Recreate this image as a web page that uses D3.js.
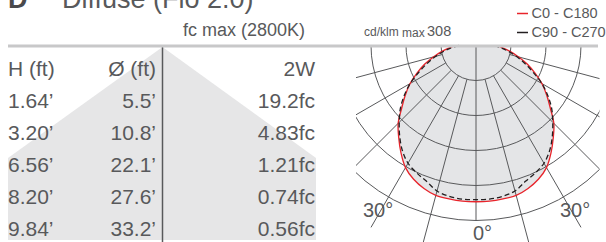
<!DOCTYPE html>
<html>
<head>
<meta charset="utf-8">
<script src="https://cdn.jsdelivr.net/npm/d3@7"></script>
<style>
  body { margin: 0; background: #fff; }
  svg { display: block; font-family: "Liberation Sans", Arial, sans-serif; }
</style>
</head>
<body>
<div id="chart"></div>
<script>
// table data
const headers = ["H (ft)", "Ø (ft)", "2W"];
const heights = ["1.64’", "3.20’", "6.56’", "8.20’", "9.84’"];
const diameters = ["5.5’", "10.8’", "22.1’", "27.6’", "33.2’"];
const footcandles = ["19.2fc", "4.83fc", "1.21fc", "0.74fc", "0.56fc"];

// polar data (cd/klm), angle from nadir
const angles = [0, 5, 10, 15, 20, 25, 30, 35, 40, 45, 50, 55, 60, 65, 70, 75, 80, 85, 90];
const c0c180 = [308, 308, 307, 306, 300, 291, 278, 258, 237, 217, 191, 170, 150, 128, 108, 87, 69, 53, 39];
const c90c270 = [304, 304, 302, 297, 285, 277, 268, 253, 234, 214, 195, 173, 150, 124, 102, 82, 64, 48, 34];
const ringValues = [69, 138, 207, 276, 345];
const gridAngles = [15, 30, 45, 60, 75];
const legendNames = ["C0 - C180", "C90 - C270"];

const width = 606, height = 242;
const ink = "#58595b";

const svg = d3.select("#chart").append("svg")
  .attr("width", width)
  .attr("height", height);

// title (cut off at top)
svg.append("text").attr("x", 8).attr("y", 8)
  .attr("font-size", 27).attr("font-weight", "bold").attr("fill", "#4a4a4c")
  .text("D");
svg.append("text").attr("x", 62).attr("y", 8)
  .attr("font-size", 27).attr("fill", ink)
  .text("Diffuse (Flo 2.0)");

// ---------- table ----------
const rowY = d3.scalePoint().domain(d3.range(heights.length + 1)).range([76, 236]);
const colX = { h: 8, d: 156, fc: 315 };
const lineX = 162.5, topY = 46;

// light cone
svg.append("path")
  .attr("d", `M${lineX},${topY + 1}L316,158L316,240L8,240L8,158Z`)
  .attr("fill", "#e6e6e7");

svg.append("text").attr("x", 305).attr("y", 36)
  .attr("font-size", 18).attr("text-anchor", "end").attr("fill", ink)
  .text("fc max (2800K)");

const cols = [
  { x: colX.h, anchor: "start", vals: [headers[0]].concat(heights) },
  { x: colX.d, anchor: "end", vals: [headers[1]].concat(diameters) },
  { x: colX.fc, anchor: "end", vals: [headers[2]].concat(footcandles) }
];
cols.forEach(c => {
  svg.append("g").selectAll("text").data(c.vals).join("text")
    .attr("x", c.x)
    .attr("y", (d, i) => rowY(i))
    .attr("text-anchor", c.anchor)
    .attr("font-size", 21)
    .attr("fill", ink)
    .text(d => d);
});

svg.append("line")
  .attr("x1", lineX).attr("x2", lineX).attr("y1", topY).attr("y2", height)
  .attr("stroke", ink).attr("stroke-width", 1.5);

// ---------- polar ----------
const cx = 476, cy = 45.5, R = 175;
const r = d3.scaleLinear().domain([0, 345]).range([0, R]);
const rad = a => a * Math.PI / 180;

svg.append("clipPath").attr("id", "clip")
  .append("rect").attr("x", 356).attr("y", cy).attr("width", 243.5).attr("height", 200);

const polar = svg.append("g").attr("transform", `translate(${cx},${cy})`);
const grid = svg.append("g").attr("clip-path", "url(#clip)")
  .append("g").attr("transform", `translate(${cx},${cy})`);

// full curve from -90 (left, C0) to +90 (right, C180)
function curvePoints(vals) {
  const left = angles.map((a, i) => ({ a: -a, v: vals[i] })).reverse();
  const right = angles.slice(1).map((a, i) => ({ a: a, v: vals[i + 1] }));
  return left.concat(right);
}
const radial = d3.lineRadial()
  .angle(d => Math.PI - rad(d.a))
  .radius(d => r(d.v))
  .curve(d3.curveCatmullRom);

const redPts = curvePoints(c0c180);
const blackPts = curvePoints(c90c270);

polar.append("path").attr("d", radial(redPts) + "Z").attr("fill", "#e4e5e7");
polar.append("path").attr("d", radial(blackPts) + "Z").attr("fill", "#e4e5e7");

// grid rings
grid.selectAll("circle").data(ringValues).join("circle")
  .attr("r", d => r(d))
  .attr("fill", "none").attr("stroke", ink).attr("stroke-width", 1);

// grid rays
const rays = gridAngles.flatMap(a => [a, -a]);
grid.selectAll("line.ray").data(rays).join("line")
  .attr("class", "ray")
  .attr("x1", a => r(ringValues[0]) * Math.sin(rad(a)))
  .attr("y1", a => r(ringValues[0]) * Math.cos(rad(a)))
  .attr("x2", a => R * 1.2 * Math.sin(rad(a)))
  .attr("y2", a => R * 1.2 * Math.cos(rad(a)))
  .attr("stroke", ink).attr("stroke-width", 1);
grid.append("line")
  .attr("x1", 0).attr("x2", 0).attr("y1", 0).attr("y2", r(ringValues[4]))
  .attr("stroke", ink).attr("stroke-width", 1);

// curves
const polar2 = svg.append("g").attr("transform", `translate(${cx},${cy})`);
polar2.append("path").attr("d", radial(redPts))
  .attr("fill", "none").attr("stroke", "#e8242b").attr("stroke-width", 1.3);
polar2.append("path").attr("d", radial(blackPts))
  .attr("fill", "none").attr("stroke", "#231f20").attr("stroke-width", 1.3)
  .attr("stroke-dasharray", "5,3");

// header rule
svg.append("line")
  .attr("x1", 8).attr("x2", 598).attr("y1", topY).attr("y2", topY)
  .attr("stroke", "#c8c8c9").attr("stroke-width", 3);

// angle labels
const labelPos = [[363, 217], [473, 240], [560, 217]];
svg.append("g").selectAll("text").data(["30°", "0°", "30°"]).join("text")
  .attr("x", (d, i) => labelPos[i][0])
  .attr("y", (d, i) => labelPos[i][1])
  .attr("font-size", 20).attr("fill", ink)
  .text(d => d);

// cd/klm max
const cd = svg.append("text").attr("x", 364).attr("y", 36).attr("fill", ink);
cd.append("tspan").attr("font-size", 12).text("cd/klm ");
cd.append("tspan").attr("font-size", 12).attr("dy", 1).text("max");
cd.append("tspan").attr("font-size", 14.5).attr("dy", -1).attr("x", 427).text(d3.max(c0c180));

// legend
const legendColors = ["#e8242b", "#231f20"];
const leg = svg.append("g").selectAll("g").data(legendNames).join("g")
  .attr("transform", (d, i) => `translate(517,${13.5 + i * 19})`);
leg.append("line").attr("x1", 0).attr("x2", 11)
  .attr("stroke", (d, i) => legendColors[i]).attr("stroke-width", 1.5);
leg.append("text").attr("x", 14.5).attr("y", 4.8)
  .attr("font-size", 14.5).attr("fill", ink)
  .text(d => d);
</script>
</body>
</html>
